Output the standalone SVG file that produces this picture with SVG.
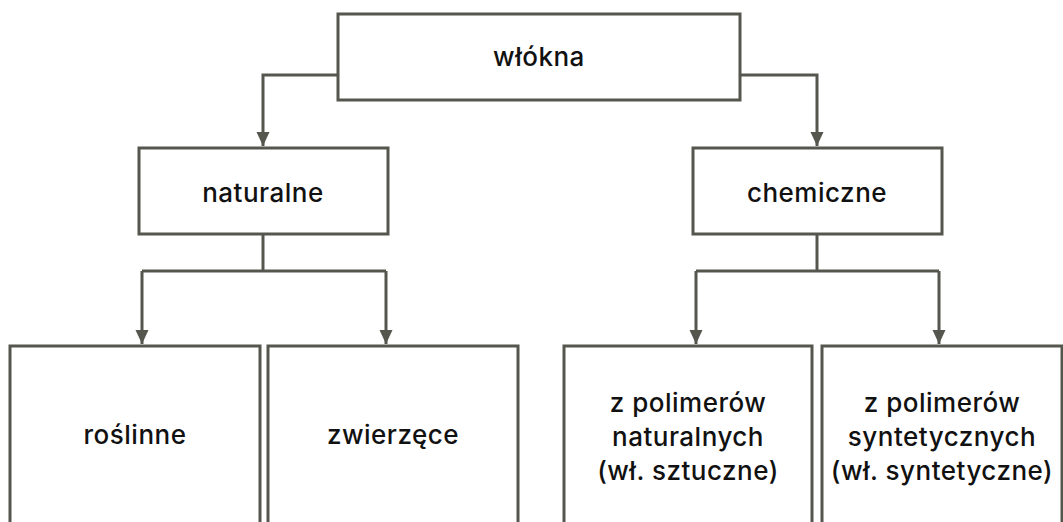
<svg xmlns="http://www.w3.org/2000/svg" width="1063" height="522" viewBox="0 0 1063 522">
<defs>
<style>
.box{fill:#fff;stroke:#55564e;stroke-width:3}
.line{fill:none;stroke:#55564e;stroke-width:3}
.t{font-family:Inter,"Noto Sans",sans-serif;font-size:26px;font-weight:500;letter-spacing:0.5px;fill:#111;text-anchor:middle}
</style>
<marker id="arr" markerWidth="14" markerHeight="14" viewBox="0 0 14 14" refX="14" refY="7" orient="auto" markerUnits="userSpaceOnUse">
<path d="M0,0.5 L14,7 L0,13.5 Z" fill="#55564e"/>
</marker>
</defs>
<g id="connectors">
<path class="line" d="M338,75 H263 V146" marker-end="url(#arr)"/>
<path class="line" d="M740,75 H817 V146" marker-end="url(#arr)"/>
<path class="line" d="M263,234 V271"/>
<path class="line" d="M142,271 H386"/>
<path class="line" d="M142,271 V344" marker-end="url(#arr)"/>
<path class="line" d="M386,271 V344" marker-end="url(#arr)"/>
<path class="line" d="M817,234 V271"/>
<path class="line" d="M696,271 H939"/>
<path class="line" d="M696,271 V344" marker-end="url(#arr)"/>
<path class="line" d="M939,271 V344" marker-end="url(#arr)"/>
</g>
<g id="wlokna">
<rect class="box" x="338" y="14" width="402" height="86"/>
<text class="t" x="539" y="66">włókna</text>
</g>
<g id="naturalne">
<rect class="box" x="139" y="148" width="249" height="86"/>
<text class="t" x="263" y="202">naturalne</text>
</g>
<g id="chemiczne">
<rect class="box" x="693" y="148" width="249" height="86"/>
<text class="t" x="817" y="202">chemiczne</text>
</g>
<g id="roslinne">
<rect class="box" x="10" y="346" width="250" height="190"/>
<text class="t" x="135" y="444">roślinne</text>
</g>
<g id="zwierzece">
<rect class="box" x="268" y="346" width="250" height="190"/>
<text class="t" x="393" y="444">zwierzęce</text>
</g>
<g id="polimery-naturalne">
<rect class="box" x="564" y="346" width="248" height="190"/>
<text class="t" x="688" y="412">z polimerów</text>
<text class="t" x="688" y="446">naturalnych</text>
<text class="t" x="688" y="480">(wł. sztuczne)</text>
</g>
<g id="polimery-syntetyczne">
<rect class="box" x="822" y="346" width="240" height="190"/>
<text class="t" x="942" y="412">z polimerów</text>
<text class="t" x="942" y="446">syntetycznych</text>
<text class="t" x="942" y="480">(wł. syntetyczne)</text>
</g>
</svg>
